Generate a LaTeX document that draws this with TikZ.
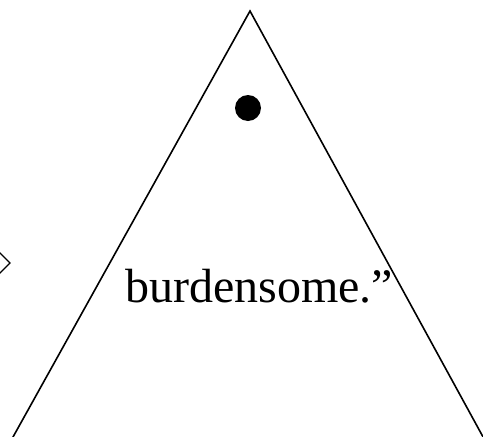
\documentclass[tikz,border=0pt]{standalone}
\usepackage{fontspec}
\setmainfont{Liberation Serif}
\begin{document}
\begin{tikzpicture}[x=1pt,y=-1pt,
  edge/.style={draw=black,line width=1.6pt},
  label/.style={font=\fontsize{48}{56}\selectfont,inner sep=0pt}]
\useasboundingbox (0,0) rectangle (483,437);
\clip (0,0) rectangle (483,437);
\fill[white] (0,0) rectangle (483,437);
% partial diamond at the left edge
\draw[edge,line width=1.3pt] (-12,241) -- (10,263) -- (-12,285);
% triangle sides
\coordinate (apex) at (250,11);
\coordinate (bl) at (8,446);
\coordinate (br) at (488,446);
\draw[edge,line join=miter] (bl) -- (apex) -- (br);
% dot
\fill[black] (248,108) circle (13);
% text
\node[label,anchor=base] (txt) at (259,302) {burdensome.”};
\end{tikzpicture}
\end{document}
